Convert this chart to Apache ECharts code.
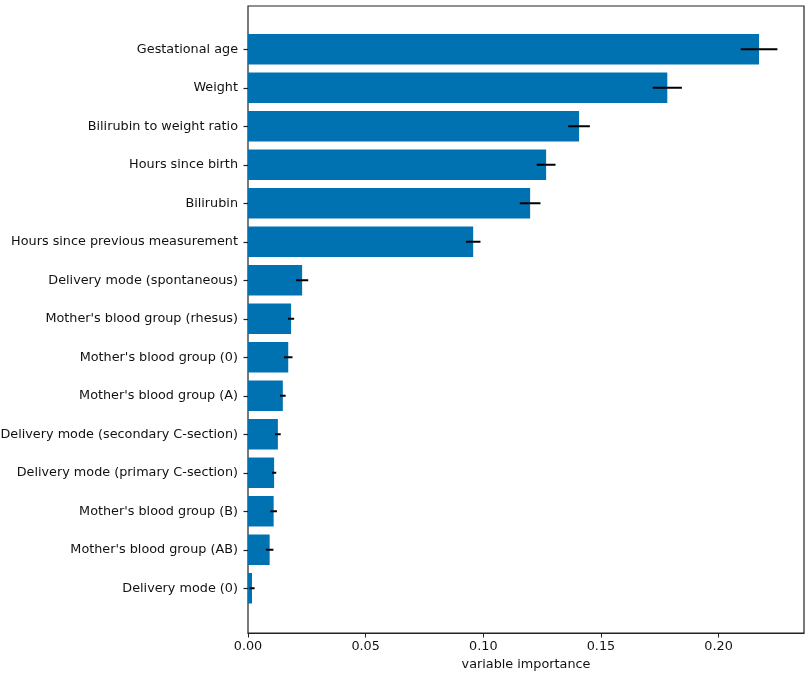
<!DOCTYPE html>
<html>
<head>
<meta charset="utf-8">
<script src="https://cdn.jsdelivr.net/npm/echarts@6/dist/echarts.min.js"></script>
<style>
  html, body { margin: 0; padding: 0; background: #fff; }
  #chart { width: 810px; height: 676px; }
</style>
</head>
<body>
<div id="chart"></div>
<script>
// variable names, top to bottom
var categories = [
  'Gestational age',
  'Weight',
  'Bilirubin to weight ratio',
  'Hours since birth',
  'Bilirubin',
  'Hours since previous measurement',
  'Delivery mode (spontaneous)',
  "Mother's blood group (rhesus)",
  "Mother's blood group (0)",
  "Mother's blood group (A)",
  'Delivery mode (secondary C-section)',
  'Delivery mode (primary C-section)',
  "Mother's blood group (B)",
  "Mother's blood group (AB)",
  'Delivery mode (0)'
];
// importance values
var importance = [0.2172, 0.1782, 0.1407, 0.1267, 0.1199, 0.0957, 0.0230, 0.0183, 0.0171, 0.0148, 0.0127, 0.0111, 0.0109, 0.0092, 0.0017];
// half-width of the error bars
var errors = [0.0078, 0.0062, 0.0046, 0.0040, 0.0044, 0.0031, 0.0026, 0.0013, 0.0018, 0.0012, 0.0012, 0.0009, 0.0014, 0.0016, 0.0011];
var xTicks = [0, 0.05, 0.10, 0.15, 0.20];

var xMax = 0.2363;
var font = 'DejaVu Sans';
var fs = 12.8;

var errData = importance.map(function (v, i) {
  return [v - errors[i], v + errors[i], i];
});

var myChart = echarts.init(document.getElementById('chart'));

var option = {
  animation: false,
  backgroundColor: '#fff',
  textStyle: { fontFamily: font },
  grid: [
    // outer frame
    { left: 248, right: 6, top: 6, bottom: 43, containLabel: false, outerBoundsMode: 'none',
      show: true, borderColor: '#222', borderWidth: 1.2, backgroundColor: 'transparent' },
    // inner grid holding the category bands
    { left: 248, right: 6, top: 30, bottom: 68.5, containLabel: false, outerBoundsMode: 'none' }
  ],
  xAxis: [
    {
      gridIndex: 0, type: 'value', min: 0, max: xMax, interval: 0.05,
      axisLine: { show: true, lineStyle: { color: '#222', width: 1.2 } },
      axisTick: { show: true, length: 4.5, lineStyle: { color: '#222' } },
      splitLine: { show: false },
      axisLabel: {
        color: '#111', fontSize: fs, fontFamily: font, margin: 7, showMaxLabel: false,
        formatter: function (v) {
          return xTicks.some(function (t) { return Math.abs(t - v) < 1e-9; }) ? v.toFixed(2) : '';
        }
      },
      name: 'variable importance', nameLocation: 'middle', nameGap: 24,
      nameTextStyle: { color: '#111', fontSize: fs, fontFamily: font }
    },
    { gridIndex: 1, type: 'value', min: 0, max: xMax, show: false }
  ],
  yAxis: [
    { gridIndex: 0, type: 'value', min: 0, max: 1, show: false },
    {
      gridIndex: 1, type: 'category', data: categories, inverse: true,
      axisLine: { show: false },
      axisTick: { show: true, alignWithLabel: true, length: 4.5, lineStyle: { color: '#222', width: 1.2 } },
      axisLabel: { color: '#111', fontSize: fs, fontFamily: font, margin: 10 },
      splitLine: { show: false }
    }
  ],
  series: [
    {
      type: 'bar', xAxisIndex: 1, yAxisIndex: 1,
      data: importance, barWidth: 30.5,
      itemStyle: { color: '#0072B2' }
    },
    {
      type: 'custom', xAxisIndex: 1, yAxisIndex: 1, z: 5,
      data: errData,
      encode: { x: [0, 1], y: 2 },
      renderItem: function (params, api) {
        var a = api.coord([api.value(0), api.value(2)]);
        var b = api.coord([api.value(1), api.value(2)]);
        return {
          type: 'line',
          shape: { x1: a[0], y1: a[1], x2: b[0], y2: b[1] },
          style: { stroke: '#000', lineWidth: 2 }
        };
      }
    }
  ]
};

myChart.setOption(option);
</script>
</body>
</html>
